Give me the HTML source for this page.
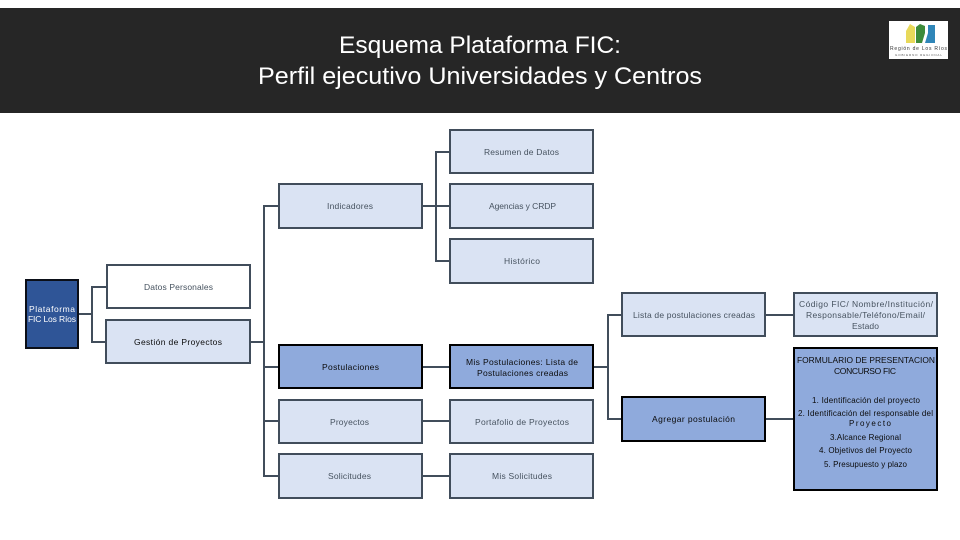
<!DOCTYPE html>
<html lang="es"><head><meta charset="utf-8"><title>Esquema Plataforma FIC</title>
<style>
html,body{margin:0;padding:0;background:#fff;width:960px;height:540px;overflow:hidden}
svg{display:block}
text{font-family:"Liberation Sans",sans-serif;font-size:8.5px;fill:#46525f}
.k text,text.k{fill:#0b0b0b}
.w text{fill:#fff}
.b{fill:#dae3f3;stroke:#414d5b;stroke-width:2}
.d{fill:#8faadc;stroke:#000;stroke-width:2}
.l{fill:none;stroke:#414d5b;stroke-width:2}
</style></head><body>
<svg width="960" height="540" viewBox="0 0 960 540" xmlns="http://www.w3.org/2000/svg">
<rect width="960" height="540" fill="#fff"/>
<rect x="0" y="8" width="960" height="105" fill="#262626"/>
<text x="339" y="53" textLength="282" lengthAdjust="spacingAndGlyphs" style="font-size:24px;fill:#fff">Esquema Plataforma FIC:</text>
<text x="258" y="84" textLength="444" lengthAdjust="spacingAndGlyphs" style="font-size:24px;fill:#fff">Perfil ejecutivo Universidades y Centros</text>

<rect x="889" y="21" width="59" height="38" fill="#fff"/>
<path d="M906 43V31l4-7 5 3v16z" fill="#e8d95a"/>
<path d="M916 43V27l4-3 5 2v7l-3 10z" fill="#3d8b3a"/>
<path d="M925 43l3-10v-8h7v18z" fill="#2f86b8"/>
<text x="890" y="50" textLength="57" lengthAdjust="spacing" style="font-size:5px;fill:#333">Región de Los Ríos</text>
<text x="895" y="56" textLength="47" lengthAdjust="spacing" style="font-size:3px;fill:#555">GOBIERNO REGIONAL</text>

<path class="l" d="M79 314H92M106 287H92V342H105"/>
<path class="l" d="M251 342H264M278 206H264V476H278M264 367H278M264 421H278"/>
<path class="l" d="M423 206H449M449 152H436V261H449"/>
<path class="l" d="M423 367H449M423 421H449M423 476H449"/>
<path class="l" d="M594 367H608M621 315H608V419H621"/>
<path class="l" d="M766 315H793M766 419H793"/>

<rect x="26" y="280" width="52" height="68" fill="#2f5597" stroke="#0b0f18" stroke-width="2"/>
<rect x="107" y="265" width="143" height="43" fill="#fff" stroke="#414d5b" stroke-width="2"/>
<rect class="b" x="106" y="320" width="144" height="43"/>
<rect class="b" x="279" y="184" width="143" height="44"/>
<rect class="b" x="450" y="130" width="143" height="43"/>
<rect class="b" x="450" y="184" width="143" height="44"/>
<rect class="b" x="450" y="239" width="143" height="44"/>
<rect class="d" x="279" y="345" width="143" height="43"/>
<rect class="d" x="450" y="345" width="143" height="43"/>
<rect class="b" x="279" y="400" width="143" height="43"/>
<rect class="b" x="450" y="400" width="143" height="43"/>
<rect class="b" x="279" y="454" width="143" height="44"/>
<rect class="b" x="450" y="454" width="143" height="44"/>
<rect class="b" x="622" y="293" width="143" height="43"/>
<rect class="b" x="794" y="293" width="143" height="43"/>
<rect class="d" x="622" y="397" width="143" height="44"/>
<rect class="d" x="794" y="348" width="143" height="142"/>

<g class="w">
<text x="29" y="312" textLength="46" lengthAdjust="spacing">Plataforma</text>
<text x="28" y="322" textLength="48" lengthAdjust="spacing">FIC Los Ríos</text>
</g>
<text x="144" y="290" textLength="69" lengthAdjust="spacing">Datos Personales</text>
<text class="k" x="134" y="345" textLength="88" lengthAdjust="spacing">Gestión de Proyectos</text>
<text x="327" y="209" textLength="46" lengthAdjust="spacing">Indicadores</text>
<text x="484" y="155" textLength="75" lengthAdjust="spacing">Resumen de Datos</text>
<text x="489" y="209" textLength="67" lengthAdjust="spacing">Agencias y CRDP</text>
<text x="504" y="264" textLength="36" lengthAdjust="spacing">Histórico</text>
<text class="k" x="322" y="370" textLength="57" lengthAdjust="spacing">Postulaciones</text>
<text class="k" x="466" y="365" textLength="112" lengthAdjust="spacing">Mis Postulaciones: Lista de</text>
<text class="k" x="477" y="376" textLength="91" lengthAdjust="spacing">Postulaciones creadas</text>
<text x="330" y="425" textLength="39" lengthAdjust="spacing">Proyectos</text>
<text x="475" y="425" textLength="94" lengthAdjust="spacing">Portafolio de Proyectos</text>
<text x="328" y="479" textLength="43" lengthAdjust="spacing">Solicitudes</text>
<text x="492" y="479" textLength="60" lengthAdjust="spacing">Mis Solicitudes</text>
<text x="633" y="318" textLength="122" lengthAdjust="spacing">Lista de postulaciones creadas</text>
<text x="799" y="307" textLength="134" lengthAdjust="spacing">Código FIC/ Nombre/Institución/</text>
<text x="806" y="318" textLength="119" lengthAdjust="spacing">Responsable/Teléfono/Email/</text>
<text x="852" y="329" textLength="27" lengthAdjust="spacing">Estado</text>
<text class="k" x="652" y="422" textLength="83" lengthAdjust="spacing">Agregar postulación</text>
<g class="k">
<text x="797" y="363" textLength="138" lengthAdjust="spacingAndGlyphs">FORMULARIO DE PRESENTACION</text>
<text x="834" y="374" textLength="62" lengthAdjust="spacing">CONCURSO FIC</text>
<text x="812" y="403" textLength="108" lengthAdjust="spacing" style="font-size:8px">1. Identificación del proyecto</text>
<text x="798" y="416" textLength="135" lengthAdjust="spacing" style="font-size:8px">2. Identificación del responsable del</text>
<text x="849" y="426" textLength="42" lengthAdjust="spacing" style="font-size:8px">Proyecto</text>
<text x="830" y="440" textLength="71" lengthAdjust="spacing" style="font-size:8px">3.Alcance Regional</text>
<text x="819" y="453" textLength="93" lengthAdjust="spacing" style="font-size:8px">4. Objetivos del Proyecto</text>
<text x="824" y="467" textLength="83" lengthAdjust="spacing" style="font-size:8px">5. Presupuesto y plazo</text>
</g>
</svg>
</body></html>
